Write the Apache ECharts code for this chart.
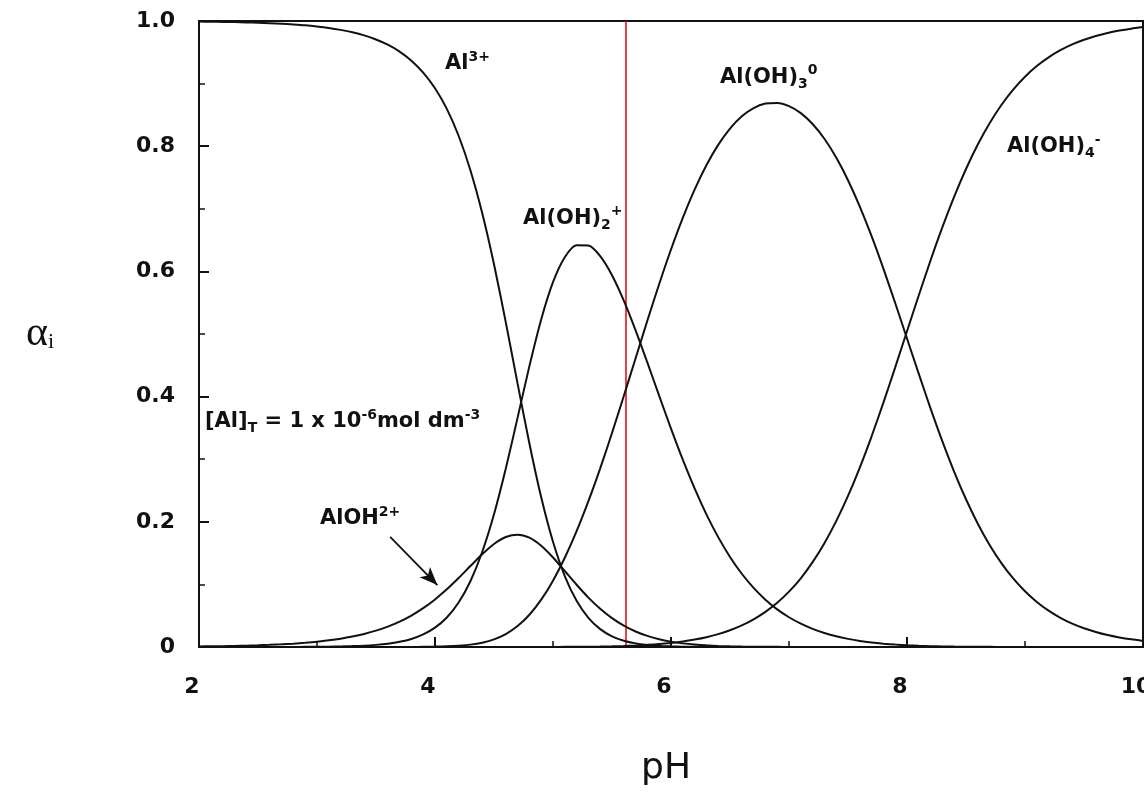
<!DOCTYPE html>
<html><head><meta charset="utf-8">
<script src="https://cdn.jsdelivr.net/npm/echarts@6/dist/echarts.min.js"></script>
<style>html,body{margin:0;padding:0;background:#fff}#c{width:1144px;height:794px}</style>
</head><body><div id="c"></div><script>
// pH grid
const pH = [2.0,2.1,2.2,2.3,2.4,2.5,2.6,2.7,2.8,2.9,3.0,3.1,3.2,3.3,3.4,3.5,3.6,3.7,3.8,3.9,
  4.0,4.1,4.2,4.3,4.4,4.5,4.6,4.7,4.8,4.9,5.0,5.1,5.2,5.3,5.4,5.5,5.6,5.7,5.8,5.9,
  6.0,6.1,6.2,6.3,6.4,6.5,6.6,6.7,6.8,6.9,7.0,7.1,7.2,7.3,7.4,7.5,7.6,7.7,7.8,7.9,
  8.0,8.1,8.2,8.3,8.4,8.5,8.6,8.7,8.8,8.9,9.0,9.1,9.2,9.3,9.4,9.5,9.6,9.7,9.8,9.9,10.0];
// fraction of each species
const alpha_Al3 = [0.9991,0.9989,0.9986,0.9983,0.9978,0.9973,0.9966,0.9957,0.9945,0.9931,
  0.9912,0.9889,0.9858,0.9820,0.9770,0.9705,0.9621,0.9511,0.9366,0.9176,
  0.8925,0.8596,0.8167,0.7617,0.6932,0.6113,0.5186,0.4207,0.3251,0.2392,
  0.1681,0.1133,0.0737,0.0465,0.0285,0.0171,0.0101,0.0058,0.0033,0.0018,
  0.0010,0.0005,0.0003,0.0002,0.0001,0,0,0,0,0,0,0,0,0,0,0,0,0,0,0,
  0,0,0,0,0,0,0,0,0,0,0,0,0,0,0,0,0,0,0,0,0];
const alpha_AlOH = [0.0009,0.0011,0.0013,0.0017,0.0021,0.0027,0.0034,0.0043,0.0053,0.0067,
  0.0084,0.0106,0.0133,0.0167,0.0209,0.0261,0.0326,0.0406,0.0503,0.0620,
  0.0760,0.0921,0.1102,0.1293,0.1482,0.1646,0.1757,0.1795,0.1746,0.1617,
  0.1430,0.1214,0.0994,0.0789,0.0610,0.0461,0.0341,0.0248,0.0177,0.0124,
  0.0086,0.0058,0.0039,0.0026,0.0017,0.0011,0.0007,0.0005,0.0003,0.0002,
  0.0001,0.0001,0,0,0,0,0,0,0,0,0,0,0,0,0,0,0,0,0,0,0,0,0,0,0,0,0,0,0,0,0];
const alpha_AlOH2 = [0,0,0,0,0,0,0.0001,0.0001,0.0001,0.0002,
  0.0003,0.0005,0.0009,0.0014,0.0021,0.0034,0.0053,0.0083,0.0129,0.0201,
  0.0309,0.0472,0.0711,0.1051,0.1517,0.2119,0.2850,0.3664,0.4487,0.5233,
  0.5827,0.6225,0.6416,0.6413,0.6244,0.5939,0.5533,0.5058,0.4542,0.4012,
  0.3489,0.2992,0.2533,0.2119,0.1755,0.1439,0.1170,0.0944,0.0756,0.0601,
  0.0475,0.0372,0.0290,0.0224,0.0171,0.0130,0.0097,0.0072,0.0053,0.0038,
  0.0027,0.0019,0.0013,0.0009,0.0006,0.0004,0.0003,0.0002,0.0001,0.0001,
  0,0,0,0,0,0,0,0,0,0,0];
const alpha_AlOH3 = [0,0,0,0,0,0,0,0,0,0,0,0,0,0,0,0,0,0.0001,0.0001,0.0003,
  0.0006,0.0011,0.0021,0.0038,0.0069,0.0122,0.0206,0.0334,0.0515,0.0756,
  0.1060,0.1426,0.1850,0.2329,0.2854,0.3418,0.4009,0.4613,0.5215,0.5799,
  0.6350,0.6855,0.7307,0.7696,0.8021,0.8281,0.8478,0.8610,0.8681,0.8691,
  0.8640,0.8529,0.8355,0.8119,0.7819,0.7457,0.7036,0.6562,0.6044,0.5495,
  0.4929,0.4362,0.3809,0.3285,0.2799,0.2360,0.1970,0.1631,0.1341,0.1095,
  0.0890,0.0720,0.0581,0.0467,0.0374,0.0300,0.0240,0.0191,0.0153,0.0122,0.0097];
const alpha_AlOH4 = [0,0,0,0,0,0,0,0,0,0,0,0,0,0,0,0,0,0,0,0,
  0,0,0,0,0,0,0,0,0,0.0001,
  0.0001,0.0002,0.0003,0.0005,0.0007,0.0011,0.0016,0.0024,0.0034,0.0047,
  0.0065,0.0088,0.0119,0.0157,0.0206,0.0268,0.0345,0.0442,0.0561,0.0706,
  0.0884,0.1098,0.1355,0.1658,0.2010,0.2413,0.2867,0.3366,0.3903,0.4467,
  0.5044,0.5619,0.6178,0.6706,0.7195,0.7636,0.8027,0.8367,0.8658,0.8904,
  0.9110,0.9280,0.9419,0.9533,0.9626,0.9700,0.9760,0.9809,0.9847,0.9878,0.9903];
const xTickLabels = ['2','4','6','8','10'];
const yTickLabels = ['0','0.2','0.4','0.6','0.8','1.0'];
const markerPH = 5.62;

const INK = '#111';
const FONT = 'DejaVu Sans';
const zip = a => pH.map((x, i) => [x, a[i]]);

const chart = echarts.init(document.getElementById('c'), null, {renderer: 'canvas'});
const lineSeries = (name, arr) => ({
  name, type: 'line', data: zip(arr), showSymbol: false, smooth: 0.25,
  lineStyle: {color: INK, width: 2}, itemStyle: {color: INK}, silent: true, z: 3
});
const s = [
  lineSeries('Al3+', alpha_Al3),
  lineSeries('AlOH2+', alpha_AlOH),
  lineSeries('Al(OH)2+', alpha_AlOH2),
  lineSeries('Al(OH)3', alpha_AlOH3),
  lineSeries('Al(OH)4-', alpha_AlOH4)
];
s[0].markLine = {
  silent: true, symbol: ['none', 'none'], label: {show: false},
  lineStyle: {color: '#e8101a', width: 1.6, type: 'solid'},
  data: [{xAxis: markerPH}], z: 2
};
s[1].markLine = {
  silent: true, symbol: ['none', 'arrow'], symbolSize: [11, 18], label: {show: false},
  lineStyle: {color: INK, width: 1.8, type: 'solid'},
  data: [[{coord: [3.62, 0.176]}, {coord: [4.02, 0.099]}]]
};

const axisCommon = {
  axisLine: {show: true, onZero: false, lineStyle: {color: INK, width: 2}},
  axisTick: {show: true, inside: true, length: 10, lineStyle: {color: INK, width: 2}},
  minorTick: {show: true, splitNumber: 2, length: 6, lineStyle: {color: INK, width: 1.5}},
  splitLine: {show: false}, minorSplitLine: {show: false}
};

chart.setOption({
  animation: false,
  backgroundColor: '#fff',
  grid: {left: 199, right: 1, top: 21, bottom: 147, show: true, borderColor: INK, borderWidth: 2,
         containLabel: false, outerBoundsMode: 'none'},
  xAxis: Object.assign({
    type: 'value', min: 2, max: 10, interval: 2,
    axisLabel: {color: INK, fontFamily: FONT, fontWeight: 'bold', fontSize: 22, margin: 29,
      padding: [0, 14, 0, 0],
      formatter: v => xTickLabels[(v - 2) / 2]},
    name: 'pH', nameLocation: 'middle', nameGap: 104,
    nameTextStyle: {color: INK, fontFamily: FONT, fontSize: 36, padding: [0, 10, 0, 0]}
  }, axisCommon),
  yAxis: Object.assign({
    type: 'value', min: 0, max: 1, interval: 0.2,
    axisLabel: {color: INK, fontFamily: FONT, fontWeight: 'bold', fontSize: 22, margin: 24,
      formatter: v => yTickLabels[Math.round(v / 0.2)]},
    name: '{a|α}{i|i}', nameLocation: 'middle', nameGap: 145, nameRotate: 0,
    nameTextStyle: {color: INK, rich: {
      a: {fontFamily: 'Liberation Serif', fontSize: 42, color: INK},
      i: {fontFamily: 'Liberation Serif', fontSize: 22, color: INK, padding: [16, 0, 0, 0]}
    }}
  }, axisCommon),
  series: s
});

// text annotations, anchored in data coordinates
const RICH = {
  m: {fontFamily: FONT, fontWeight: 'bold', fontSize: 21, color: INK},
  sup: {fontFamily: FONT, fontWeight: 'bold', fontSize: 14, color: INK, padding: [0, 0, 13, 0]},
  sub: {fontFamily: FONT, fontWeight: 'bold', fontSize: 14, color: INK, padding: [14, 0, 0, 0]}
};
const annotations = [
  {at: [4.085, 0.932], text: '{m|Al}{sup|3+}'},
  {at: [4.746, 0.685], text: '{m|Al(OH)}{sub|2}{sup|+}'},
  {at: [6.415, 0.910], text: '{m|Al(OH)}{sub|3}{sup|0}'},
  {at: [8.847, 0.799], text: '{m|Al(OH)}{sub|4}{sup|-}'},
  {at: [2.051, 0.360], text: '{m|[Al]}{sub|T}{m| = 1 x 10}{sup|-6}{m|mol dm}{sup|-3}'},
  {at: [3.025, 0.205], text: '{m|AlOH}{sup|2+}'}
];
chart.setOption({
  graphic: annotations.map(a => {
    const p = chart.convertToPixel({gridIndex: 0}, a.at);
    return {type: 'text', x: p[0], y: p[1], silent: true, z: 10,
      style: {text: a.text, rich: RICH, align: 'left', verticalAlign: 'middle', fill: INK}};
  })
});
</script></body></html>
